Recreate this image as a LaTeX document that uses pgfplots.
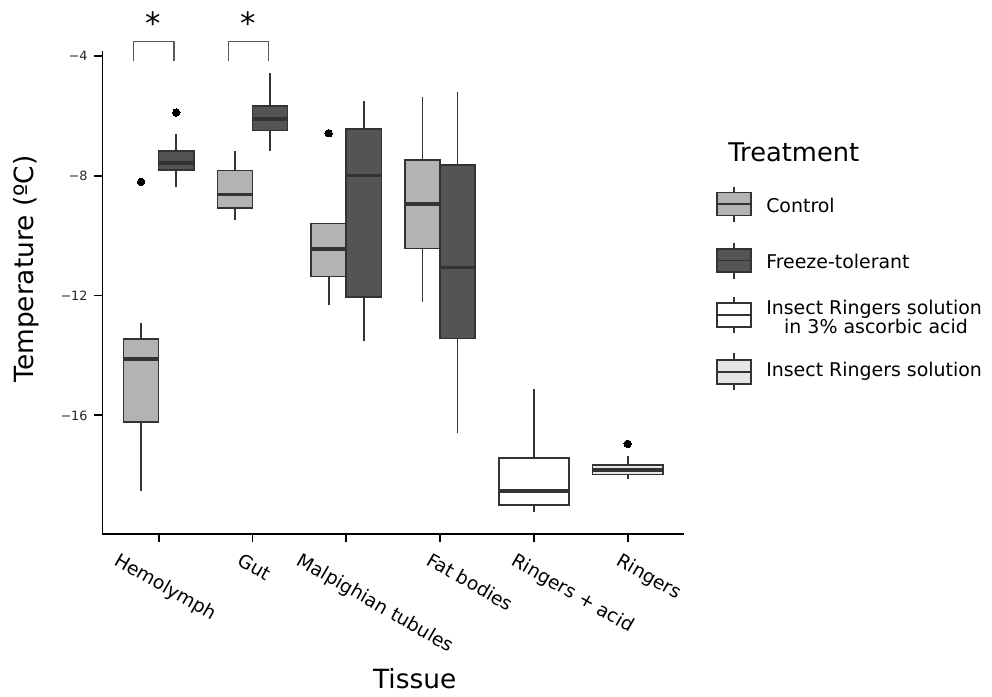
\documentclass[border=0pt]{standalone}
\usepackage{pgfplots}
\pgfplotsset{compat=1.18}
\usepackage{fontspec}
\setmainfont{DejaVu Sans}
\definecolor{ctrl}{HTML}{B3B3B3}
\definecolor{ft}{HTML}{545454}
\definecolor{ring}{HTML}{E5E5E5}
\definecolor{edge}{HTML}{333333}
\newcommand{\mn}{\char"2212\relax}
\pgfplotsset{
  whisk/.style={draw=edge, line width=1.2pt, no marks, forget plot},
  boxs/.style={draw=edge, line width=1.2pt, no marks, forget plot, fill=#1},
  med/.style={draw=edge, line width=2.6pt, no marks, forget plot},
  outl/.style={only marks, mark=*, mark size=2.8pt, mark options={fill=black, draw=black, line width=0pt}, forget plot},
}
\begin{document}
\begin{tikzpicture}
\useasboundingbox (0,0) rectangle (744pt,522pt);
\begin{axis}[
  at={(76.8pt,121.3pt)}, anchor=south west,
  width=436.2pt, height=362.1pt, scale only axis,
  xmin=0.4, xmax=6.6, ymin=-19.97, ymax=-3.85,
  axis x line*=bottom, axis y line*=left,
  axis line style={line width=1.3pt, black},
  xtick={1,2,3,4,5,6}, xticklabels={},
  ytick={-16,-12,-8,-4}, yticklabels={},
  tick align=outside, major tick length=6pt,
  tick style={line width=1.3pt, black},
  clip=false,
]
% ---- Hemolymph: Control (x=0.8125) ----
\addplot[whisk] coordinates {(0.8125,-18.52) (0.8125,-16.23)};
\addplot[whisk] coordinates {(0.8125,-13.45) (0.8125,-12.93)};
\addplot[boxs=ctrl] coordinates {(0.625,-16.23) (1.0,-16.23) (1.0,-13.45) (0.625,-13.45)} -- cycle;
\addplot[med] coordinates {(0.625,-14.12) (1.0,-14.12)};
\addplot[outl] coordinates {(0.8125,-8.20)};
% ---- Hemolymph: Freeze-tolerant (x=1.1875) ----
\addplot[whisk] coordinates {(1.1875,-8.38) (1.1875,-7.81)};
\addplot[whisk] coordinates {(1.1875,-7.17) (1.1875,-6.60)};
\addplot[boxs=ft] coordinates {(1.0,-7.81) (1.375,-7.81) (1.375,-7.17) (1.0,-7.17)} -- cycle;
\addplot[med] coordinates {(1.0,-7.57) (1.375,-7.57)};
\addplot[outl] coordinates {(1.1875,-5.89)};
% ---- Gut: Control (x=1.8125) ----
\addplot[whisk] coordinates {(1.8125,-9.48) (1.8125,-9.07)};
\addplot[whisk] coordinates {(1.8125,-7.82) (1.8125,-7.19)};
\addplot[boxs=ctrl] coordinates {(1.625,-9.07) (2.0,-9.07) (2.0,-7.82) (1.625,-7.82)} -- cycle;
\addplot[med] coordinates {(1.625,-8.63) (2.0,-8.63)};
% ---- Gut: Freeze-tolerant (x=2.1875) ----
\addplot[whisk] coordinates {(2.1875,-7.17) (2.1875,-6.49)};
\addplot[whisk] coordinates {(2.1875,-5.67) (2.1875,-4.58)};
\addplot[boxs=ft] coordinates {(2.0,-6.49) (2.375,-6.49) (2.375,-5.67) (2.0,-5.67)} -- cycle;
\addplot[med] coordinates {(2.0,-6.11) (2.375,-6.11)};
% ---- Malpighian tubules: Control (x=2.8125) ----
\addplot[whisk] coordinates {(2.8125,-12.31) (2.8125,-11.37)};
\addplot[boxs=ctrl] coordinates {(2.625,-11.37) (3.0,-11.37) (3.0,-9.60) (2.625,-9.60)} -- cycle;
\addplot[med] coordinates {(2.625,-10.45) (3.0,-10.45)};
\addplot[outl] coordinates {(2.8125,-6.58)};
% ---- Malpighian tubules: Freeze-tolerant (x=3.1875) ----
\addplot[whisk] coordinates {(3.1875,-13.51) (3.1875,-12.05)};
\addplot[whisk] coordinates {(3.1875,-6.44) (3.1875,-5.49)};
\addplot[boxs=ft] coordinates {(3.0,-12.05) (3.375,-12.05) (3.375,-6.44) (3.0,-6.44)} -- cycle;
\addplot[med] coordinates {(3.0,-8.00) (3.375,-8.00)};
% ---- Fat bodies: Control (x=3.8125) ----
\addplot[whisk] coordinates {(3.8125,-12.20) (3.8125,-10.43)};
\addplot[whisk] coordinates {(3.8125,-7.47) (3.8125,-5.38)};
\addplot[boxs=ctrl] coordinates {(3.625,-10.43) (4.0,-10.43) (4.0,-7.47) (3.625,-7.47)} -- cycle;
\addplot[med] coordinates {(3.625,-8.95) (4.0,-8.95)};
% ---- Fat bodies: Freeze-tolerant (x=4.1875) ----
\addplot[whisk] coordinates {(4.1875,-16.60) (4.1875,-13.44)};
\addplot[whisk] coordinates {(4.1875,-7.65) (4.1875,-5.19)};
\addplot[boxs=ft] coordinates {(4.0,-13.44) (4.375,-13.44) (4.375,-7.65) (4.0,-7.65)} -- cycle;
\addplot[med] coordinates {(4.0,-11.06) (4.375,-11.06)};
% ---- Ringers + acid (x=5) ----
\addplot[whisk] coordinates {(5,-19.24) (5,-19.00)};
\addplot[whisk] coordinates {(5,-17.43) (5,-15.13)};
\addplot[boxs=white] coordinates {(4.625,-19.00) (5.375,-19.00) (5.375,-17.43) (4.625,-17.43)} -- cycle;
\addplot[med] coordinates {(4.625,-18.52) (5.375,-18.52)};
% ---- Ringers (x=6) ----
\addplot[whisk] coordinates {(6,-18.12) (6,-17.97)};
\addplot[whisk] coordinates {(6,-17.65) (6,-17.36)};
\addplot[boxs=ring] coordinates {(5.625,-17.97) (6.375,-17.97) (6.375,-17.65) (5.625,-17.65)} -- cycle;
\addplot[med] coordinates {(5.625,-17.82) (6.375,-17.82)};
\addplot[outl] coordinates {(6,-16.95)};
\end{axis}
\begin{scope}[x=0.75pt, y=-0.75pt, shift={(0pt,522pt)}]
  % y tick labels
  \begin{scope}[every node/.style={anchor=base east, inner sep=0pt, text=black!85, font=\fontsize{9.6}{11}\selectfont}]
    \node at (87.8,60.7) {\mn4};
    \node at (87.8,180.5) {\mn8};
    \node at (87.8,300.3) {\mn12};
    \node at (87.8,420.1) {\mn16};
  \end{scope}
  % significance brackets
  \draw[line width=0.9pt, color=black!65] (133.3,60.7) -- (133.3,41.7) -- (174,41.7) -- (174,60.7);
  \draw[line width=0.9pt, color=black!65] (228.3,60.7) -- (228.3,41.7) -- (268.3,41.7) -- (268.3,60.7);
  \node[anchor=base, inner sep=0pt, font=\fontsize{23}{26}\selectfont] at (153.5,34.5) {*};
  \node[anchor=base, inner sep=0pt, font=\fontsize{23}{26}\selectfont] at (248.5,34.5) {*};
  % x tick labels
  \begin{scope}[every node/.style={rotate=-30, anchor=base west, inner sep=0pt, font=\fontsize{14}{16}\selectfont}]
    \node at (113.5,564) {Hemolymph};
    \node at (236.5,564) {Gut};
    \node at (295.5,564) {Malpighian tubules};
    \node at (425.5,564) {Fat bodies};
    \node at (510.5,564) {Ringers + acid};
    \node at (615.5,564) {Ringers};
  \end{scope}
  % axis titles
  \node[anchor=base, inner sep=0pt, font=\fontsize{19.8}{22}\selectfont] at (414.7,688) {Tissue};
  \node[anchor=base, rotate=90, inner sep=0pt, font=\fontsize{19.8}{22}\selectfont] at (33,269) {Temperature (ºC)};
  % legend
  \node[anchor=base west, inner sep=0pt, font=\fontsize{19.3}{22}\selectfont] at (728,161.7) {Treatment};
  \begin{scope}[line width=1.2pt, draw=edge]
    \draw[edge] (733.7,186.7) -- (733.7,221.7);
    \filldraw[fill=ctrl, draw=edge] (716.7,192.7) rectangle (750.7,215.7);
    \draw[edge] (716.7,204.2) -- (750.7,204.2);
    \draw[edge] (733.7,243) -- (733.7,279);
    \filldraw[fill=ft, draw=edge] (716.7,249) rectangle (750.7,272.3);
    \draw[edge] (716.7,260.7) -- (750.7,260.7);
    \draw[edge] (733.7,296.7) -- (733.7,333.3);
    \filldraw[fill=white, draw=edge] (716.7,303.3) rectangle (750.7,327.3);
    \draw[edge] (716.7,315.3) -- (750.7,315.3);
    \draw[edge] (733.7,353.3) -- (733.7,390);
    \filldraw[fill=ring, draw=edge] (716.7,360) rectangle (750.7,384);
    \draw[edge] (716.7,372) -- (750.7,372);
  \end{scope}
  \begin{scope}[every node/.style={inner sep=0pt, font=\fontsize{14.2}{16}\selectfont}]
    \node[anchor=base west] at (766,212.3) {Control};
    \node[anchor=base west] at (766,268.3) {Freeze-tolerant};
    \node[anchor=base west] at (766,314.3) {Insect Ringers solution};
    \node[anchor=base] at (876,334) {in 3\% ascorbic acid};
    \node[anchor=base west] at (766,376.7) {Insect Ringers solution};
  \end{scope}
\end{scope}
\end{tikzpicture}
\end{document}
